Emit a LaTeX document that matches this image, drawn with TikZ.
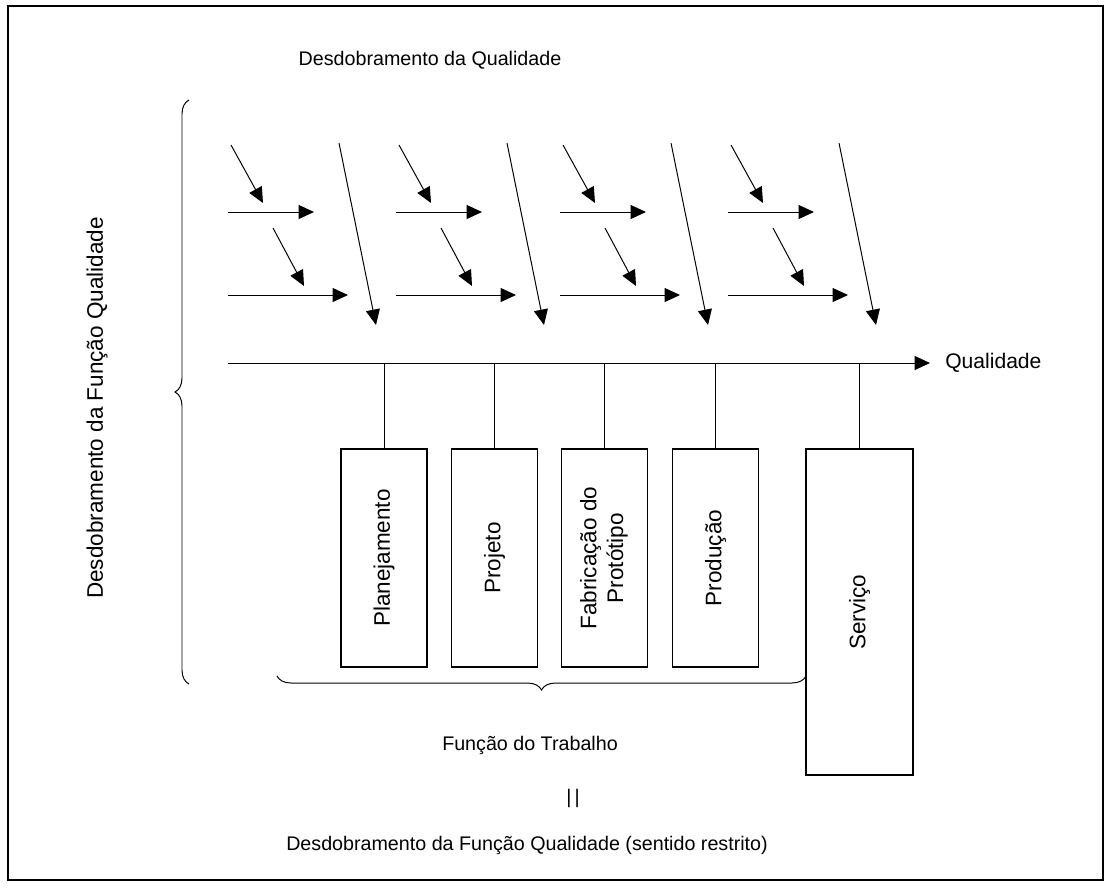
\documentclass[tikz,border=0pt]{standalone}
\usepackage{fontspec}
\setmainfont{Liberation Sans}
\usetikzlibrary{arrows.meta}
\usetikzlibrary{decorations.pathreplacing}

\begin{document}
\begin{tikzpicture}[x=0.025cm, y=-0.025cm,
    arr/.style={-{Triangle[length=11pt,width=10pt]}, line width=0.7pt},
    fbox/.style={draw, line width=0.8pt, inner sep=0pt, font=\fontsize{16}{19}\selectfont},
    lbl/.style={font=\fontsize{14}{17}\selectfont},
    brc/.style={decorate, decoration={brace, amplitude=#1}, line width=0.7pt}]
                \useasboundingbox (0,0) rectangle (1110,888);
                % Frame
                \draw[line width=1.4pt] (8,6) rectangle (1103,880);

                % Titles
                \node[lbl] (top) at (430,60) {Desdobramento da Qualidade};
                \node[lbl, font=\fontsize{16}{19}\selectfont, rotate=90] (side) at (97,408) {Desdobramento da Função Qualidade};
                \draw[brc=0.35cm] (189,684) -- (189,100);

                % Fishbone arrows
                \foreach \d in {0,168,332,500}{
                    \draw[arr] (231+\d,145) -- (263+\d,203);
                    \draw[arr] (228+\d,212) -- (314+\d,212);
                    \draw[arr] (273+\d,228) -- (304+\d,286);
                    \draw[arr] (228+\d,295) -- (348+\d,295);
                    \draw[arr] (339+\d,143) -- (376+\d,325);
                }

                % Quality axis
                \coordinate (axL) at (228,363);
                \coordinate (axR) at (930,363);
                \draw[arr] (axL) -- (axR);
                \node[lbl, font=\fontsize{15}{18}\selectfont, anchor=west, inner sep=0pt] (qual) at (945,363) {Qualidade};

                % Work functions
                \node[fbox, minimum width=2.15cm, minimum height=5.45cm] (plan) at (384,558) {\rotatebox{90}{Planejamento}};
                \node[fbox, minimum width=2.15cm, minimum height=5.45cm] (proj) at (494.5,558) {\rotatebox{90}{Projeto}};
                \node[fbox, minimum width=2.15cm, minimum height=5.45cm] (fab) at (604.5,558) {\rotatebox{90}{\begin{tabular}{@{}c@{}}Fabricação do\\Protótipo\end{tabular}}};
                \node[fbox, minimum width=2.15cm, minimum height=5.45cm] (prod) at (715.5,558) {\rotatebox{90}{Produção}};
                \node[fbox, minimum width=2.675cm, minimum height=8.15cm] (serv) at (859.5,612) {\rotatebox{90}{Serviço}};
                \foreach \b in {plan,proj,fab,prod,serv}
                    \draw[line width=0.7pt] (\b.north) -- (\b.north |- axL);

                \draw[brc=0.35cm] (806,676) -- (277,676);
                \node[lbl] (func) at (530,745) {Função do Trabalho};
                \node[lbl] (eq) at (573,798) {|\,|};
                \node[lbl] (qfd) at (527,845) {Desdobramento da Função Qualidade (sentido restrito)};
\end{tikzpicture}
\end{document}
